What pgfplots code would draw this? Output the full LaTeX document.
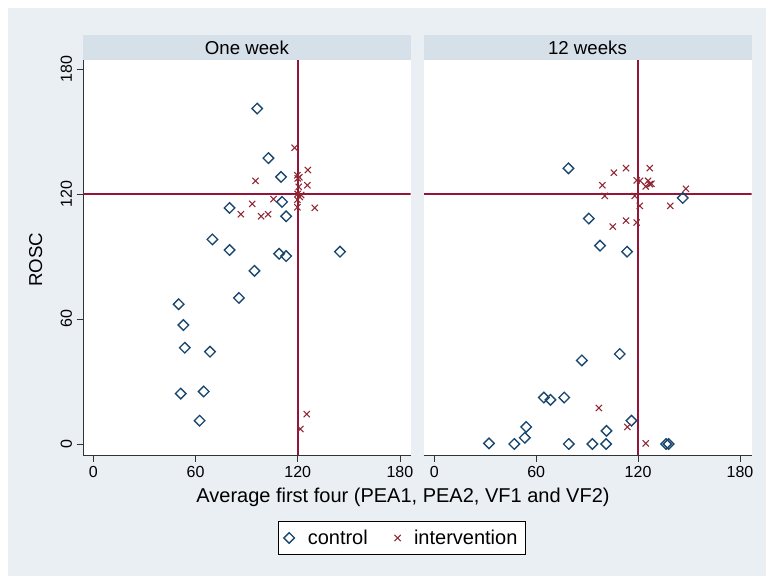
\documentclass[border=0pt]{standalone}
\usepackage{fontspec}
\setmainfont{Liberation Sans}
\usepackage{pgfplots}
\pgfplotsset{compat=1.18}

\definecolor{bgcol}{RGB}{233,239,243}
\definecolor{stripcol}{RGB}{214,224,232}
\definecolor{ctrl}{RGB}{26,71,111}
\definecolor{intv}{RGB}{144,40,52}
\definecolor{refl}{RGB}{150,20,55}

% one panel of the by-graph
\pgfplotsset{
  panel/.style={
    scale only axis,
    height=296.25pt,
    ymin=-5.28, ymax=184.3,
    xtick={0,60,120,180}, ytick={0,60,120,180},
    axis x line*=bottom,
    axis line style={-, line width=0.7pt, black!80},
    tick align=outside,
    major tick length=5pt,
    tick style={black!80, line width=0.6pt},
    ticklabel style={font=\fontsize{12}{14}\selectfont},
    yticklabel style={rotate=90, anchor=south},
    /pgf/number format/assume math mode=true,
    axis background/.style={fill=white},
    anchor=south west,
  },
  ctrlmarks/.style={only marks, mark=square, mark size=2.8pt,
    mark options={rotate=45, draw=ctrl, fill=none, line width=1pt}},
  intvmarks/.style={only marks, mark=x, mark size=3.3pt,
    mark options={draw=intv, line width=0.8pt}},
  refline/.style={refl, line width=1.2pt, forget plot},
}

\pgfplotstableread{
x y
96.2 161.0
102.8 137.2
110.2 128.2
110.8 116.2
80.0 113.3
113.2 109.3
69.9 98.2
80.0 93.1
109.1 91.3
113.2 90.2
144.8 92.3
94.6 83.1
85.5 70.1
50.1 67.1
52.9 57.1
53.7 46.2
68.5 44.3
51.3 24.2
64.8 25.2
62.4 11.2
}\ctrlone

\pgfplotstableread{
x y
118.2 142.2
119.8 129.0
121.0 128.0
120.0 127.5
126.0 131.5
95.2 126.3
120.6 123.4
125.7 124.2
120.0 120.0
121.2 118.6
122.0 119.5
119.8 117.2
119.8 113.6
105.8 117.5
93.3 115.2
86.6 110.3
98.5 109.3
102.6 110.3
130.0 113.3
125.3 14.3
121.6 7.2
}\intvone

\pgfplotstableread{
x y
79.0 132.3
91.0 108.2
97.6 95.2
113.5 92.3
146.3 118.1
109.2 43.2
86.9 40.1
64.5 22.3
68.4 21.2
76.5 22.3
116.1 11.2
101.4 6.3
54.1 8.2
53.3 3.0
32.2 0.3
47.1 0
79.2 0
93.1 0
101.2 0
136.5 0
138.0 0
}\ctrltwelve

\pgfplotstableread{
x y
112.9 132.4
126.9 132.4
105.7 130.2
99.0 124.2
119.2 126.5
121.2 126.3
125.9 126.3
126.9 124.7
124.5 123.6
127.8 124.9
148.2 122.5
100.4 119.1
118.0 119.1
121.0 114.3
139.0 114.3
112.9 107.2
119.2 106.3
105.1 104.3
96.9 17.3
113.7 8.2
124.5 0.3
}\intvtwelve

\begin{document}
\begin{tikzpicture}
% page and graph region
\fill[white] (0,0) rectangle (574.5pt,432pt);
\fill[bgcol] (6pt,0) rectangle (574.5pt,426pt);

% One week
\begin{axis}[panel,
  at={(62.475pt,90.75pt)},
  width=245.4pt,
  xmin=-5.87, xmax=186.2,
  axis y line*=left,
  legend columns=2,
  legend style={at={(0.974,-0.21)}, anchor=center,
    draw=black, line width=0.6pt, fill=white,
    font=\fontsize{15}{17}\selectfont,
    inner xsep=4pt, inner ysep=4.5pt,
    /tikz/every odd column/.append style={column sep=8pt},
    /tikz/every even column/.append style={column sep=18pt}},
]
\addplot[refline] coordinates {(120,-5.28) (120,184.3)};
\addplot[refline] coordinates {(-5.87,120) (186.2,120)};
\addplot[ctrlmarks] table {\ctrlone};
\addplot[intvmarks] table {\intvone};
\legend{control, intervention}
\end{axis}

% 12 weeks
\begin{axis}[panel,
  at={(317.625pt,90.75pt)},
  width=246pt,
  xmin=-6.36, xmax=186.8,
  axis y line=none,
]
\addplot[refline] coordinates {(120,-5.28) (120,184.3)};
\addplot[refline] coordinates {(-6.36,120) (186.8,120)};
\addplot[ctrlmarks] table {\ctrltwelve};
\addplot[intvmarks] table {\intvtwelve};
\end{axis}

% panel headers
\fill[stripcol] (62.475pt,387pt) rectangle (307.875pt,405.75pt);
\fill[stripcol] (317.625pt,387pt) rectangle (563.625pt,405.75pt);
\node[font=\fontsize{14}{16}\selectfont] at (185.2pt,396.4pt) {One week};
\node[font=\fontsize{14}{16}\selectfont] at (440.6pt,396.4pt) {12 weeks};

% axis titles
\node[font=\fontsize{15}{17}\selectfont] at (302.25pt,59.25pt)
  {Average first four (PEA1, PEA2, VF1 and VF2)};
\node[font=\fontsize{14}{16}\selectfont, rotate=90] at (26.85pt,237pt) {ROSC};
\end{tikzpicture}
\end{document}
